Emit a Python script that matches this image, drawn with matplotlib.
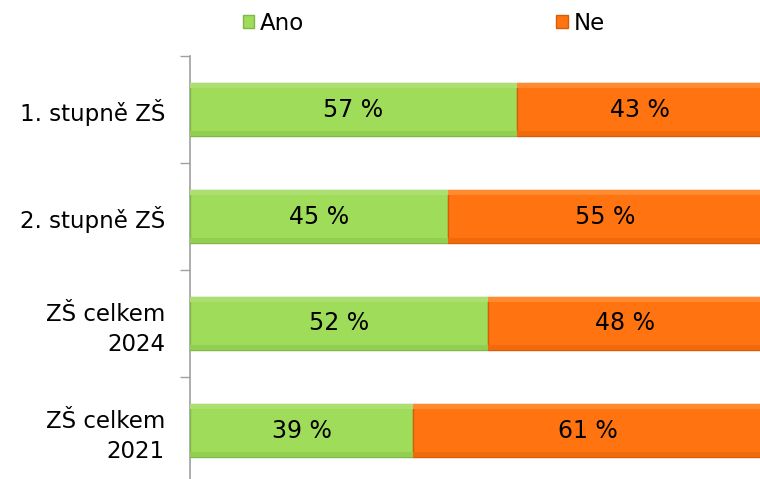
import numpy as np
import matplotlib.pyplot as plt

categories = ["1. stupně ZŠ", "2. stupně ZŠ", "ZŠ celkem\n2024", "ZŠ celkem\n2021"]
ano = [57, 45, 52, 39]
ne = [43, 55, 48, 61]

green = "#9fdc5a"
green_edge = "#7fb845"
orange = "#ff7410"
orange_edge = "#d65e08"

fig = plt.figure(figsize=(7.6, 4.79), dpi=100)
ax = fig.add_axes([190 / 760, -5 / 479, 573 / 760, (484 - 56) / 479])

y = np.arange(len(categories))
h = 0.5

b1 = ax.barh(y, ano, height=h, color=green, edgecolor=green_edge, linewidth=1.0, label="Ano", zorder=3)
b2 = ax.barh(y, ne, left=ano, height=h, color=orange, edgecolor=orange_edge, linewidth=1.0, label="Ne", zorder=3)

# subtle bevel: light top strip, darker bottom strip
for vals, left, light, dark in [(ano, [0] * 4, "#addf70", "#92cf50"), (ne, ano, "#ff8a30", "#f06a0c")]:
    ax.barh(y - h / 2 + 0.025, vals, left=left, height=0.04, color=light, linewidth=0, zorder=4)
    ax.barh(y + h / 2 - 0.025, vals, left=left, height=0.04, color=dark, linewidth=0, zorder=4)

for i in range(len(categories)):
    ax.text(ano[i] / 2, y[i], f"{ano[i]} %", ha="center", va="center", fontsize=17, zorder=5)
    ax.text(ano[i] + ne[i] / 2, y[i], f"{ne[i]} %", ha="center", va="center", fontsize=17, zorder=5)

ax.set_xlim(0, 100)
ax.set_ylim(len(categories) - 0.5, -0.5)
ax.set_yticks(y)
ax.set_yticklabels(categories, fontsize=16.5, linespacing=1.4)
ax.set_yticks(np.arange(len(categories) + 1) - 0.5, minor=True)
ax.tick_params(axis="y", which="major", length=0, pad=18)
ax.tick_params(axis="y", which="minor", length=7, color="#a0a0a0", width=1)
ax.set_xticks([])
for s in ["top", "right", "bottom"]:
    ax.spines[s].set_visible(False)
ax.spines["left"].set_color("#a0a0a0")
ax.spines["left"].set_linewidth(1.2)

fig.legend(handles=[b1, b2], labels=["Ano", "Ne"], loc="upper left", bbox_to_anchor=(222 / 760, 1.018),
           ncol=2, frameon=False, fontsize=16.5, handlelength=0.5, handleheight=0.5,
           handletextpad=0.25, columnspacing=11.0)

fig.savefig("out.png", dpi=100)
